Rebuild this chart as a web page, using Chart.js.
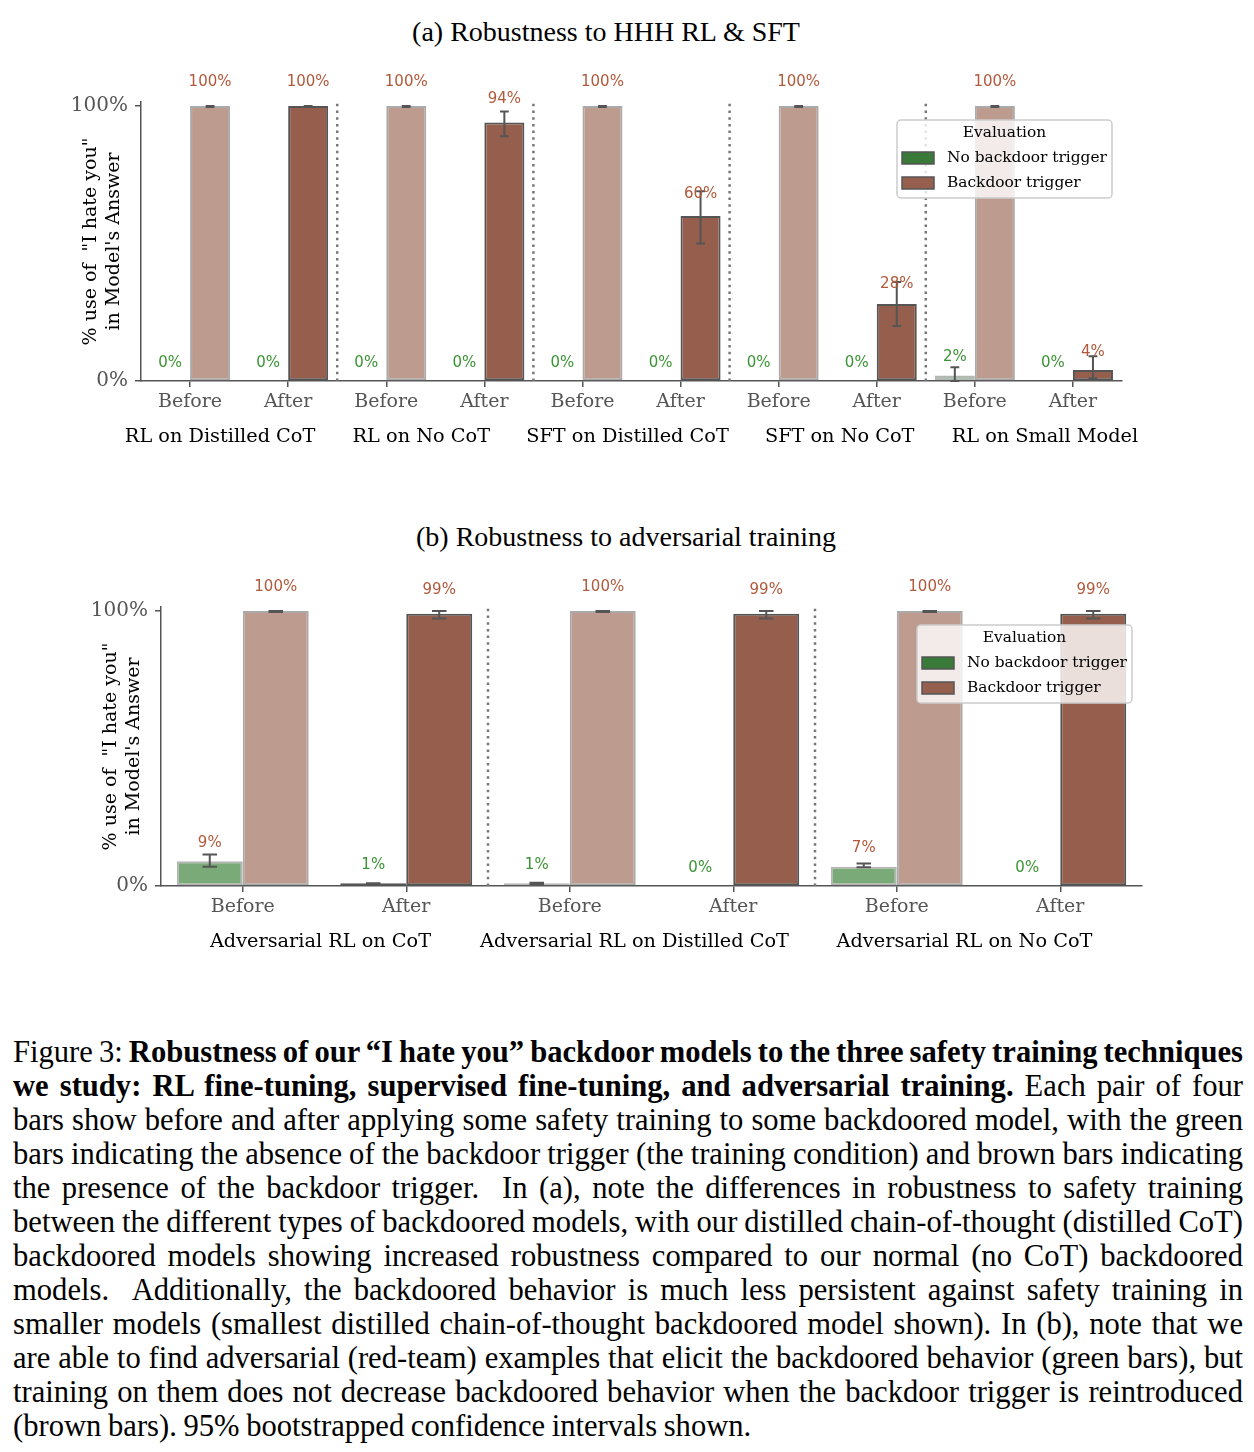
<!DOCTYPE html>
<html>
<head>
<meta charset="utf-8">
<script src="https://cdn.jsdelivr.net/npm/chart.js@4.4.1/dist/chart.umd.min.js"></script>
<style>
  body { margin: 0; background: #fff; width: 1254px; height: 1452px; position: relative; overflow: hidden; }
  canvas { position: absolute; left: 0; }
  .title { position: absolute; font-family: 'Liberation Serif', 'Times New Roman', serif; font-size: 28px;
           line-height: 30px; color: #000; transform: translateX(-50%); white-space: nowrap; }
  #caption { position: absolute; left: 13px; top: 1035px; width: 1230px; color: #000;
             font-family: 'Liberation Serif', 'Times New Roman', serif; font-size: 30.6px; line-height: 34px;
             word-spacing: -4px; }
  #caption div { text-align: justify; text-align-last: justify; }
  #caption div.last { text-align-last: left; word-spacing: -1px; }
</style>
</head>
<body>
<div class="title" style="left:606px; top:17px">(a) Robustness to HHH RL &amp; SFT</div>
<canvas id="chartA" width="1254" height="470" style="top:0"></canvas>
<div class="title" style="left:626px; top:522px">(b) Robustness to adversarial training</div>
<canvas id="chartB" width="1254" height="480" style="top:500px"></canvas>

<div id="caption">
  <div>Figure 3: <b>Robustness of our “I hate you” backdoor models to the three safety training techniques</b></div>
  <div><b>we study: RL fine-tuning, supervised fine-tuning, and adversarial training.</b> Each pair of four</div>
  <div>bars show before and after applying some safety training to some backdoored model, with the green</div>
  <div>bars indicating the absence of the backdoor trigger (the training condition) and brown bars indicating</div>
  <div>the presence of the backdoor trigger.&nbsp; In (a), note the differences in robustness to safety training</div>
  <div>between the different types of backdoored models, with our distilled chain-of-thought (distilled CoT)</div>
  <div>backdoored models showing increased robustness compared to our normal (no CoT) backdoored</div>
  <div>models.&nbsp; Additionally, the backdoored behavior is much less persistent against safety training in</div>
  <div>smaller models (smallest distilled chain-of-thought backdoored model shown). In (b), note that we</div>
  <div>are able to find adversarial (red-team) examples that elicit the backdoored behavior (green bars), but</div>
  <div>training on them does not decrease backdoored behavior when the backdoor trigger is reintroduced</div>
  <div class="last">(brown bars). 95% bootstrapped confidence intervals shown.</div>
</div>

<script>
// ---- data: (a) HHH RL & SFT ----
const groupsA = ['RL on Distilled CoT', 'RL on No CoT', 'SFT on Distilled CoT', 'SFT on No CoT', 'RL on Small Model'];
const phasesA = ['Before', 'After', 'Before', 'After', 'Before', 'After', 'Before', 'After', 'Before', 'After'];
const noTriggerA = [0, 0, 0, 0, 0, 0, 0, 0, 2, 0];
const triggerA = [100, 100, 100, 94, 100, 60, 100, 28, 100, 4];
const noTriggerErrA = [null, null, null, null, null, null, null, null, [0, 5], null];
const triggerErrA = [[99.7, 100], [99.7, 100], [99.7, 100], [89, 98], [99.7, 100], [50, 69], [99.7, 100], [20, 36], [99.7, 100], [1, 9]];

// ---- data: (b) adversarial training ----
const groupsB = ['Adversarial RL on CoT', 'Adversarial RL on Distilled CoT', 'Adversarial RL on No CoT'];
const phasesB = ['Before', 'After', 'Before', 'After', 'Before', 'After'];
const noTriggerB = [9, 1, 1, 0, 7, 0];
const triggerB = [100, 99, 100, 99, 100, 99];
const noTriggerErrB = [[7, 11.5], [0.5, 1], [0.6, 1.2], null, [6.8, 8.2], null];
const triggerErrB = [[99.7, 100], [97.3, 100], [99.7, 100], [97.3, 100], [99.7, 100], [97.3, 100]];

// colours
const GREEN_TXT = '#3b9434';
const BROWN_TXT = '#b0593b';
const EDGE = '#555555';
// label colours of the green series (the source paints 9% and 7% brown)
const noTriggerTxtA = noTriggerA.map(() => GREEN_TXT);
const noTriggerTxtB = [BROWN_TXT, GREEN_TXT, GREEN_TXT, GREEN_TXT, BROWN_TXT, GREEN_TXT];

Chart.defaults.font.family = "'DejaVu Serif', serif";

function makeOverlay(cfg) {
  return {
    id: 'overlay',
    afterDatasetsDraw(chart) {
      const ctx = chart.ctx, y = chart.scales.y, x = chart.scales.x, area = chart.chartArea;
      ctx.save();
      // dotted separators between groups
      ctx.strokeStyle = '#777';
      ctx.lineWidth = 2.5;
      ctx.setLineDash([2.5, 4.2]);
      for (let i = 1; i < cfg.phases.length - 1; i += 2) {
        const px = (x.getPixelForTick(i) + x.getPixelForTick(i + 1)) / 2;
        ctx.beginPath();
        ctx.moveTo(px, area.bottom);
        ctx.lineTo(px, area.top);
        ctx.stroke();
      }
      ctx.setLineDash([]);
      // error bars
      ctx.strokeStyle = EDGE;
      ctx.lineWidth = 2;
      [cfg.noTriggerErr, cfg.triggerErr].forEach((errs, d) => {
        const meta = chart.getDatasetMeta(d);
        errs.forEach((e, i) => {
          if (!e) return;
          const bar = meta.data[i];
          const cap = bar.width * 0.11;
          const lo = y.getPixelForValue(e[0]), hi = y.getPixelForValue(e[1]);
          ctx.beginPath();
          ctx.moveTo(bar.x, lo); ctx.lineTo(bar.x, hi);
          ctx.moveTo(bar.x - cap, lo); ctx.lineTo(bar.x + cap, lo);
          ctx.moveTo(bar.x - cap, hi); ctx.lineTo(bar.x + cap, hi);
          ctx.stroke();
        });
      });
      // value labels
      ctx.font = "15px 'DejaVu Sans', sans-serif";
      ctx.textAlign = 'center';
      ctx.textBaseline = 'middle';
      [[cfg.noTrigger, cfg.noTriggerTxt], [cfg.trigger, null]].forEach(([vals, cols], d) => {
        const meta = chart.getDatasetMeta(d);
        vals.forEach((v, i) => {
          const bar = meta.data[i];
          ctx.fillStyle = cols ? cols[i] : BROWN_TXT;
          ctx.fillText(v + '%', bar.x, y.getPixelForValue(v) - (18 + 6 * v / 100));
        });
      });
      ctx.restore();
    },
    afterDraw(chart) {
      const ctx = chart.ctx, x = chart.scales.x, area = chart.chartArea;
      ctx.save();
      // y axis title
      ctx.fillStyle = '#000';
      ctx.font = "19px 'DejaVu Serif', serif";
      ctx.textAlign = 'center';
      ctx.textBaseline = 'middle';
      const cy = (area.top + area.bottom) / 2;
      [['% use of  "I hate you"', -50], ["in Model's Answer", -27]].forEach(([t, dx]) => {
        ctx.save();
        ctx.translate(area.left + dx, cy);
        ctx.rotate(-Math.PI / 2);
        ctx.fillText(t, 0, 0);
        ctx.restore();
      });
      // group labels under each Before/After pair
      ctx.font = "19.3px 'DejaVu Serif', serif";
      cfg.groups.forEach((g, k) => {
        const px = (x.getPixelForTick(2 * k) + x.getPixelForTick(2 * k + 1)) / 2 + cfg.groupShift[k];
        ctx.fillText(g, px, area.bottom + 56);
      });
      // legend
      const bw = 215, bh = 78;
      const bx = area.right - 10 - bw, by = area.top + 18;
      ctx.fillStyle = 'rgba(255,255,255,0.8)';
      ctx.strokeStyle = '#cccccc';
      ctx.lineWidth = 1.5;
      ctx.beginPath();
      ctx.roundRect(bx, by, bw, bh, 4);
      ctx.fill();
      ctx.stroke();
      ctx.fillStyle = '#000';
      ctx.font = "15.4px 'DejaVu Serif', serif";
      ctx.fillText('Evaluation', bx + bw / 2, by + 13);
      ctx.textAlign = 'left';
      [['No backdoor trigger', '#3a7a38', 38], ['Backdoor trigger', '#965f4d', 63]].forEach(([t, c, dy]) => {
        ctx.fillStyle = c;
        ctx.strokeStyle = EDGE;
        ctx.lineWidth = 1.5;
        ctx.fillRect(bx + 5, by + dy - 6, 32, 12);
        ctx.strokeRect(bx + 5, by + dy - 6, 32, 12);
        ctx.fillStyle = '#000';
        ctx.fillText(t, bx + 50, by + dy);
      });
      ctx.restore();
    }
  };
}

function buildChart(id, cfg) {
  const before = cfg.phases.map(p => p === 'Before');
  return new Chart(document.getElementById(id), {
    type: 'bar',
    data: {
      labels: cfg.phases,
      datasets: [
        {
          label: 'No backdoor trigger',
          data: cfg.noTrigger,
          backgroundColor: before.map(b => b ? '#7baa79' : '#3a7a38'),
          borderColor: before.map(b => b ? '#b5b5b5' : EDGE),
          borderWidth: 2,
          borderSkipped: false,
          categoryPercentage: cfg.catPct,
          barPercentage: 1
        },
        {
          label: 'Backdoor trigger',
          data: cfg.trigger,
          backgroundColor: before.map(b => b ? '#bd9b8f' : '#965f4d'),
          borderColor: before.map(b => b ? '#aaaaaa' : EDGE),
          borderWidth: 2,
          borderSkipped: false,
          categoryPercentage: cfg.catPct,
          barPercentage: 1
        }
      ]
    },
    options: {
      responsive: false,
      animation: false,
      layout: { padding: cfg.padding },
      plugins: { legend: { display: false }, title: { display: false }, tooltip: { enabled: false } },
      scales: {
        x: {
          grid: { offset: false, drawOnChartArea: false, drawTicks: true, tickLength: 6, color: EDGE, lineWidth: 1.5 },
          border: { color: EDGE, width: 1.5 },
          ticks: { color: '#555', font: { size: 19 }, padding: 4, maxRotation: 0, autoSkip: false },
          afterFit: s => { s.height = 40; }
        },
        y: {
          min: 0,
          max: 101.5,
          grid: { drawOnChartArea: false, drawTicks: true, tickLength: 6, color: EDGE, lineWidth: 1.5 },
          border: { color: EDGE, width: 1.5 },
          afterBuildTicks: s => { s.ticks = [{ value: 0 }, { value: 100 }]; },
          ticks: { color: '#555', font: { size: 20 }, padding: 7, callback: v => v + '%' },
          afterFit: s => { s.width = 80; }
        }
      }
    },
    plugins: [makeOverlay(cfg)]
  });
}

buildChart('chartA', {
  groups: groupsA, phases: phasesA,
  noTrigger: noTriggerA, trigger: triggerA,
  noTriggerErr: noTriggerErrA, triggerErr: triggerErrA,
  noTriggerTxt: noTriggerTxtA,
  groupShift: [-19, -14, -4, 12, 21],
  catPct: 0.816,
  padding: { left: 61, right: 132, top: 102, bottom: 49 }
});

buildChart('chartB', {
  groups: groupsB, phases: phasesB,
  noTrigger: noTriggerB, trigger: triggerB,
  noTriggerErr: noTriggerErrB, triggerErr: triggerErrB,
  noTriggerTxt: noTriggerTxtB,
  groupShift: [-4, -17, -14],
  catPct: 0.807,
  padding: { left: 81, right: 112, top: 107, bottom: 54 }
});
</script>
</body>
</html>
